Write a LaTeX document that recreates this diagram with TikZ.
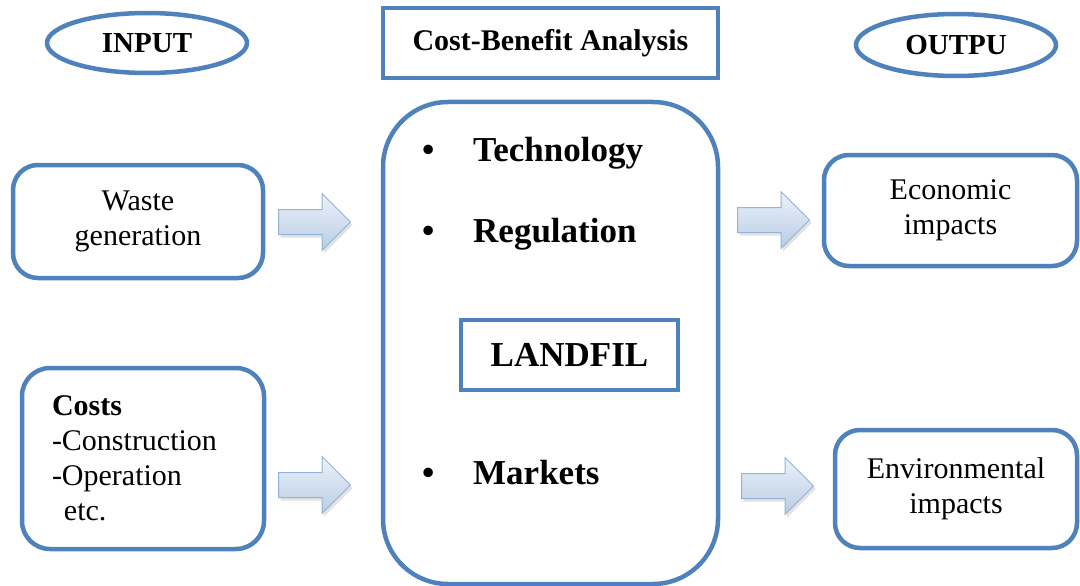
\documentclass[tikz,border=0pt]{standalone}
\usepackage{fontspec}
\setmainfont{Liberation Serif}
\usetikzlibrary{shapes.geometric, shapes.arrows, shadows}

\definecolor{ofblue}{RGB}{79,129,189}
\definecolor{arrowedge}{RGB}{149,179,215}
\definecolor{arrowtop}{RGB}{236,242,250}
\definecolor{arrowbot}{RGB}{184,204,228}

\begin{document}
\begin{tikzpicture}[
    x=1pt, y=-1pt,
    oval/.style={
        ellipse, draw=ofblue, line width=4.5pt, fill=white,
        minimum width=200pt, minimum height=60pt, inner sep=0pt,
        font=\fontsize{29}{34}\selectfont\bfseries
    },
    titlebox/.style={
        rectangle, draw=ofblue, line width=4.5pt, fill=white,
        inner sep=0pt, align=center
    },
    roundbox/.style={
        rectangle, rounded corners=25pt, draw=ofblue, line width=4.5pt,
        fill=white, inner sep=0pt, align=center,
        font=\fontsize{30}{35}\selectfont
    },
    flowarrow/.style={
        single arrow, single arrow head extend=16pt, inner sep=12pt,
        minimum height=72pt, minimum width=56pt, anchor=tail,
        draw=arrowedge, line width=1pt,
        top color=arrowtop, bottom color=arrowbot,
        drop shadow={shadow xshift=2pt, shadow yshift=-3pt, fill=gray!45}
    },
    item/.style={anchor=base west, inner sep=0pt,
        font=\fontsize{35}{40}\selectfont\bfseries}
]
\useasboundingbox (0,0) rectangle (1080,586);

% headings
\node[oval] (input) at (147,43) {INPUT};
\node[titlebox, minimum width=335pt, minimum height=70pt,
      font=\fontsize{30}{35}\selectfont\bfseries] (cba) at (550.5,43) {Cost-Benefit Analysis};
\node[oval, minimum height=62pt] (output) at (956,45) {OUTPU};

% central block
\node[roundbox, rounded corners=65pt, minimum width=335pt, minimum height=482pt] (core) at (550.5,343) {};
\node[item] (b1) at (422,161) {\textbullet};
\node[item] (tech) at (473,161) {Technology};
\node[item] (b2) at (422,242) {\textbullet};
\node[item] (regul) at (473,242) {Regulation};
\node[titlebox, minimum width=217pt, minimum height=70pt,
      font=\fontsize{35}{40}\selectfont\bfseries] (landfil) at (569.5,355) {LANDFIL};
\node[item] (b3) at (422,484) {\textbullet};
\node[item] (markets) at (473,484) {Markets};

% inputs
\node[roundbox, minimum width=250pt, minimum height=113pt] (waste) at (138,221.5) {Waste\\generation};
\node[roundbox, rounded corners=28pt, minimum width=242pt, minimum height=181pt,
      align=left, text width=182pt, inner xsep=30pt] (costs) at (143,458.5)
      {\textbf{Costs}\\-Construction\\-Operation\\\hspace{0.4em}etc.};

% outputs
\node[roundbox, minimum width=253pt, minimum height=111pt] (econ) at (950.5,210.5) {Economic\\impacts};
\node[roundbox, minimum width=242pt, minimum height=118pt] (env) at (956,489) {Environmental\\impacts};

% block arrows, placed by their tails
\node[flowarrow] (arrin1) at (278,222) {};
\node[flowarrow] (arrin2) at (278,485) {};
\node[flowarrow] (arrout1) at (737,220) {};
\node[flowarrow] (arrout2) at (741,486) {};

\end{tikzpicture}
\end{document}
